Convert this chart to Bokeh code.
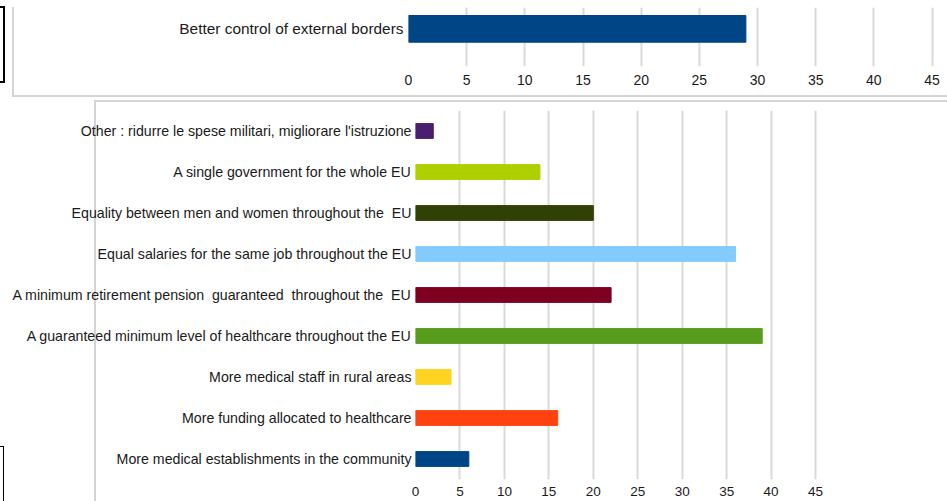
from bokeh.plotting import figure
from bokeh.layouts import column
from bokeh.models import Range1d, FactorRange, FixedTicker
from bokeh.embed import file_html
from bokeh.resources import INLINE

# ---- data ----
top_categories = ["Better control of external borders"]
top_values = [29]
top_colors = ["#004586"]

bottom_categories = [
    "More medical establishments in the community",
    "More funding allocated to healthcare",
    "More medical staff in rural areas",
    "A guaranteed minimum level of healthcare throughout the EU",
    "A minimum retirement pension  guaranteed  throughout the  EU",
    "Equal salaries for the same job throughout the EU",
    "Equality between men and women throughout the  EU",
    "A single government for the whole EU",
    "Other : ridurre le spese militari, migliorare l'istruzione",
]
bottom_values = [6, 16, 4, 39, 22, 36, 20, 14, 2]
bottom_colors = ["#004586", "#ff420e", "#ffd320", "#579d1c", "#7e0021",
                 "#83caff", "#314004", "#aecf00", "#4b1f6f"]
x_ticks = [0, 5, 10, 15, 20, 25, 30, 35, 40, 45]

FONT = "Liberation Sans"
TXT = "#1a1a1a"
GRID = "#d9d9d9"
FRAME = "#d4d4d4"


def show_spaces(s):
    # keep doubled spaces visible in SVG text
    return s.replace("  ", "\u00a0\u00a0")


def deco_css(rects):
    # decorative frame strokes painted behind the (transparent) canvas
    imgs = ",".join(f"linear-gradient({c},{c})" for (_, _, _, _, c) in rects)
    pos = ",".join(f"{x}px {y}px" for (x, y, _, _, _) in rects)
    size = ",".join(f"{w}px {h}px" for (_, _, w, h, _) in rects)
    return {"background-image": imgs, "background-repeat": "no-repeat",
            "background-position": pos, "background-size": size}


def style(p, ylab_size, xlab_size):
    p.outline_line_color = None
    p.background_fill_color = None
    p.border_fill_color = None
    p.frame_align = False
    p.ygrid.grid_line_color = None
    p.xgrid.ticker = FixedTicker(ticks=x_ticks)
    p.xgrid.grid_line_color = GRID
    p.xgrid.grid_line_width = 2
    for ax in (p.xaxis[0], p.yaxis[0]):
        ax.axis_line_color = None
        ax.major_tick_line_color = None
        ax.minor_tick_line_color = None
        ax.major_tick_out = 0
        ax.major_tick_in = 0
        ax.major_label_text_font = FONT
        ax.major_label_text_color = TXT
    p.yaxis[0].major_label_text_font_size = ylab_size
    p.xaxis[0].major_label_text_font_size = xlab_size
    p.xaxis[0].ticker = FixedTicker(ticks=x_ticks)


# ---- top chart ----
top_pos = list(range(len(top_categories)))
p1 = figure(width=947, height=98, output_backend="svg", toolbar_location=None,
            x_range=Range1d(0, 46.33), y_range=Range1d(-1.41, 0.80),
            min_border_left=408, min_border_right=0, min_border_top=7,
            min_border_bottom=32)
p1.hbar(y=top_pos, right=top_values, left=0, height=1.0, color=top_colors)
style(p1, "15.4px", "14px")
p1.yaxis[0].ticker = FixedTicker(ticks=top_pos)
p1.yaxis[0].major_label_overrides = {i: c for i, c in zip(top_pos, top_categories)}
p1.yaxis[0].major_label_standoff = 5
p1.xaxis[0].major_label_standoff = 8
p1.styles = deco_css([
    (12, 7, 2, 90, FRAME),        # frame left edge
    (12, 95, 935, 2, FRAME),      # frame bottom edge
    (0, 6, 5, 2, "#000000"),      # black bracket top
    (3, 6, 2, 77, "#000000"),     # black bracket right
    (0, 81, 5, 2, "#000000"),     # black bracket bottom
])

# ---- bottom chart ----
bottom_labels = [show_spaces(c) for c in bottom_categories]
p2 = figure(width=947, height=403, output_backend="svg", toolbar_location=None,
            x_range=Range1d(0, 59.84), y_range=FactorRange(factors=bottom_labels),
            min_border_left=415, min_border_right=0, min_border_top=12,
            min_border_bottom=22)
p2.hbar(y=bottom_labels, right=bottom_values, left=0, height=0.36,
        color=bottom_colors)
style(p2, "14.2px", "13.5px")
p2.yaxis[0].major_label_standoff = 4
p2.xaxis[0].major_label_standoff = 7
p2.styles = deco_css([
    (94, 2, 2, 420, FRAME),       # frame left edge
    (94, 2, 860, 2, FRAME),       # frame top edge
    (0, 348, 4, 1, "#000000"),    # black box top
    (3, 348, 1, 60, "#000000"),   # black box right
])

layout = column(p1, p2, spacing=0)
open("out.html", "w").write(file_html(layout, INLINE))
